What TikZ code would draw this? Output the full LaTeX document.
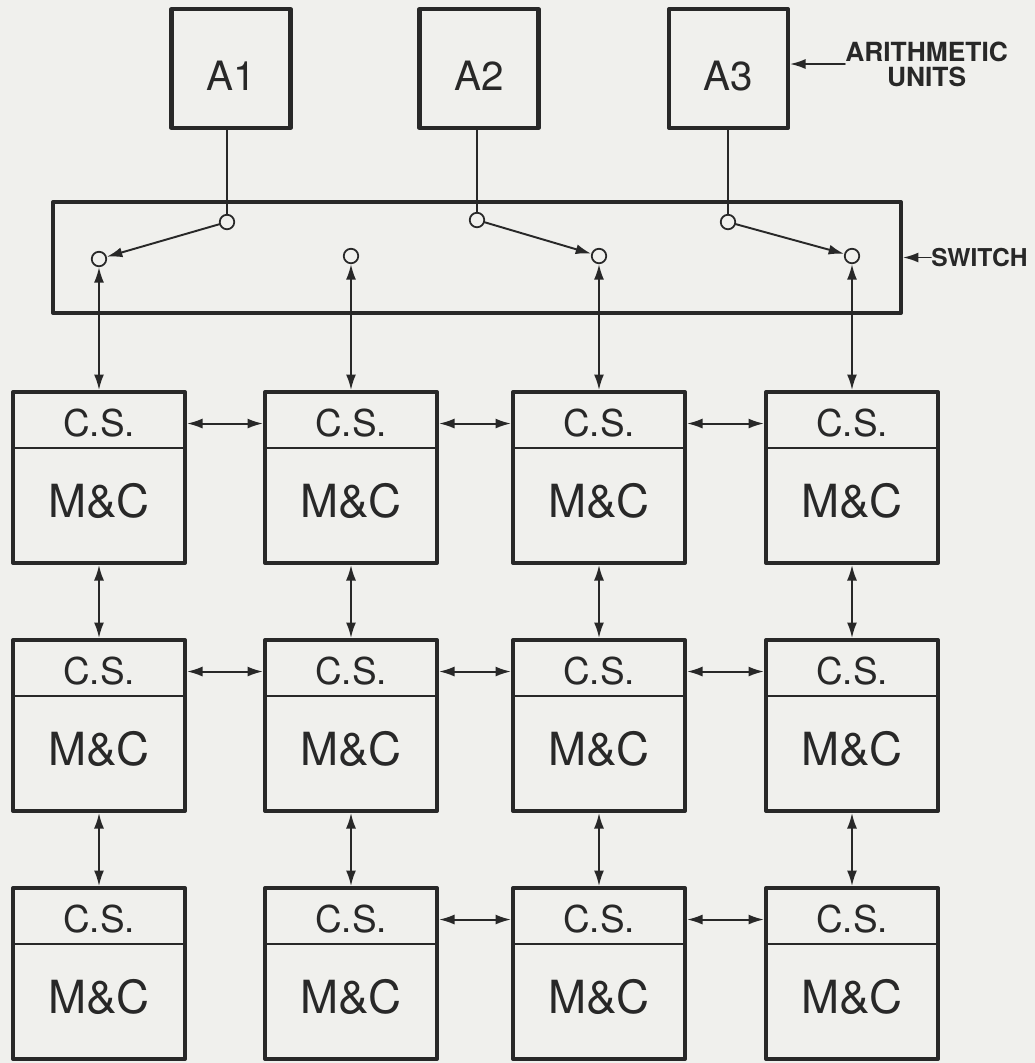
\documentclass[tikz,border=0pt]{standalone}
\usepackage{fontspec}
\setmainfont{TeX Gyre Heros}
\usetikzlibrary{arrows.meta,positioning}
\definecolor{paper}{RGB}{240,240,237}
\definecolor{ink}{RGB}{40,40,40}

\begin{document}
\begin{tikzpicture}[x=0.02cm,y=-0.02cm,>={Latex[length=0.31cm,width=0.2cm]},line cap=round,line join=round,color=ink,
  unitbox/.style={draw,line width=2.3pt,minimum width=2.38cm,minimum height=2.38cm,inner sep=0pt,text height=1.62cm,text depth=0.76cm,font=\fontsize{23}{26}\selectfont},
  membox/.style={draw,line width=2.3pt,minimum width=3.44cm,minimum height=3.42cm,inner sep=0pt,text height=2.5cm,text depth=0.92cm,font=\fontsize{26}{30}\selectfont,
    path picture={\draw[line width=1.2pt] ([yshift=-1.12cm]path picture bounding box.north west) -- ([yshift=-1.12cm]path picture bounding box.north east);}},
  cslabel/.style={minimum width=3.44cm,minimum height=1.12cm,inner sep=0pt,outer sep=1.15pt,font=\fontsize{21}{24}\selectfont},
  swbox/.style={draw,line width=2.3pt,minimum width=16.96cm,minimum height=2.22cm,inner sep=0pt},
  tag/.style={inner sep=0pt,align=center,font=\bfseries\fontsize{15}{14.2}\selectfont},
  port/.style={circle,draw,fill=paper,line width=1pt,minimum size=0.29cm,inner sep=0pt},
  wire/.style={line width=1.1pt},
  link/.style={wire,<->}]
\fill[paper] (0,0) rectangle (1035,1063);
% arithmetic units
\node[unitbox] (A1) at (231,68.5) {A1};
\node[unitbox] (A2) at (479,68.5) {A2};
\node[unitbox] (A3) at (728.5,68.5) {A3};
\node[tag,anchor=west] (arith) at (845,64) {ARITHMETIC\\UNITS};
\draw[wire,->] (arith.west) -- (arith.west -| A3.east);
% switch
\node[swbox] (switch) at (477,257.5) {};
\node[tag,anchor=west,font=\bfseries\fontsize{14}{14}\selectfont] (swlabel) at (931,257.5) {SWITCH};
\draw[wire,->] (swlabel) -- (switch.east);
\node[port] (t1) at (227,222) {};
\node[port] (t2) at (477,220) {};
\node[port] (t3) at (728,222) {};
\node[port] (b1) at (99,259) {};
\node[port] (b2) at (351,256) {};
\node[port] (b3) at (599,256) {};
\node[port] (b4) at (852,256) {};
\draw[wire] (t1) -- (t1 |- A1.south);
\draw[wire] (t2) -- (t2 |- A2.south);
\draw[wire] (t3) -- (t3 |- A3.south);
\draw[wire,->] (t1) -- (b1);
\draw[wire,->] (t2) -- (b3);
\draw[wire,->] (t3) -- (b4);
% memory and control units
\node[membox] (m11) at (99,477.5) {M\&C};
\node[cslabel,below=2pt of m11.north] (c11) {C.S.};
\node[membox] (m12) at (351,477.5) {M\&C};
\node[cslabel,below=2pt of m12.north] (c12) {C.S.};
\node[membox] (m13) at (599,477.5) {M\&C};
\node[cslabel,below=2pt of m13.north] (c13) {C.S.};
\node[membox] (m14) at (852,477.5) {M\&C};
\node[cslabel,below=2pt of m14.north] (c14) {C.S.};
\node[membox] (m21) at (99,725.5) {M\&C};
\node[cslabel,below=2pt of m21.north] (c21) {C.S.};
\node[membox] (m22) at (351,725.5) {M\&C};
\node[cslabel,below=2pt of m22.north] (c22) {C.S.};
\node[membox] (m23) at (599,725.5) {M\&C};
\node[cslabel,below=2pt of m23.north] (c23) {C.S.};
\node[membox] (m24) at (852,725.5) {M\&C};
\node[cslabel,below=2pt of m24.north] (c24) {C.S.};
\node[membox] (m31) at (99,973.5) {M\&C};
\node[cslabel,below=2pt of m31.north] (c31) {C.S.};
\node[membox] (m32) at (351,973.5) {M\&C};
\node[cslabel,below=2pt of m32.north] (c32) {C.S.};
\node[membox] (m33) at (599,973.5) {M\&C};
\node[cslabel,below=2pt of m33.north] (c33) {C.S.};
\node[membox] (m34) at (852,973.5) {M\&C};
\node[cslabel,below=2pt of m34.north] (c34) {C.S.};
% switch to first row
\draw[link] (b1) -- (m11);
\draw[link] (b2) -- (m12);
\draw[link] (b3) -- (m13);
\draw[link] (b4) -- (m14);
% rows
\draw[link] (c11) -- (c12);
\draw[link] (c12) -- (c13);
\draw[link] (c13) -- (c14);
\draw[link] (c21) -- (c22);
\draw[link] (c22) -- (c23);
\draw[link] (c23) -- (c24);
\draw[link] (c32) -- (c33);
\draw[link] (c33) -- (c34);
% columns
\draw[link] (m11) -- (m21);
\draw[link] (m21) -- (m31);
\draw[link] (m12) -- (m22);
\draw[link] (m22) -- (m32);
\draw[link] (m13) -- (m23);
\draw[link] (m23) -- (m33);
\draw[link] (m14) -- (m24);
\draw[link] (m24) -- (m34);
\end{tikzpicture}
\end{document}
